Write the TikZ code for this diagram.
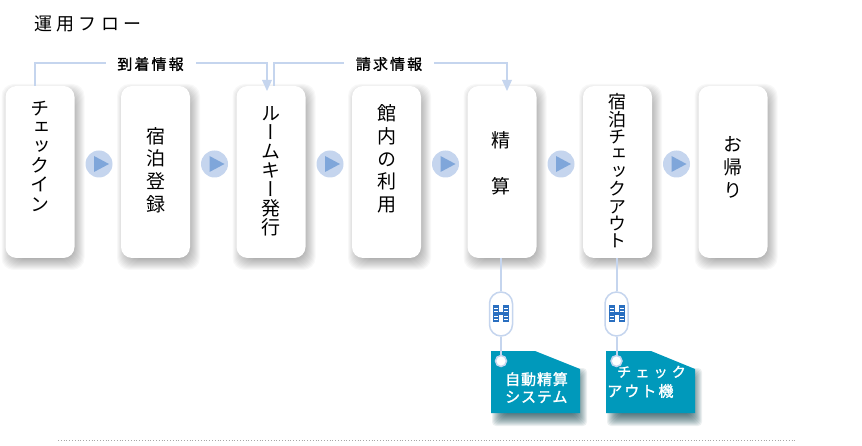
\documentclass[tikz,border=0pt]{standalone}
\usepackage{fontspec}
\usetikzlibrary{arrows.meta}
\setmainfont{Noto Sans CJK JP}
\newfontfamily\cjkv[RawFeature=+vert]{Noto Sans CJK JP}
\newfontfamily\cjkt[LetterSpace=24]{Noto Sans CJK JP}
\newfontfamily\cjkl[LetterSpace=14,FakeBold=1.2]{Noto Sans CJK JP}
\newfontfamily\cjkw[LetterSpace=6,FakeBold=1.5]{Noto Sans CJK JP}
\newfontfamily\cjkwb[LetterSpace=14,FakeBold=1.5]{Noto Sans CJK JP}
\newfontfamily\cjkww[LetterSpace=30,FakeBold=1.5]{Noto Sans CJK JP}
\definecolor{pale}{HTML}{C5D5EE}
\definecolor{tri}{HTML}{7FA6DA}
\definecolor{teal}{HTML}{0099BB}
\definecolor{bld}{HTML}{2A6FC0}
\tikzset{
  x=1pt,y=-1pt,
  flowbox/.style={fill=white,rounded corners=11pt,minimum width=69pt,minimum height=172pt,inner sep=0pt},
  vlab/.style={inner sep=0pt,align=center,text=black},
  conn/.style={draw=pale,line width=2pt},
  toplab/.style={inner sep=0pt,fill=white,minimum height=16pt,minimum width=90pt,font=\cjkl\fontsize{15}{16}\selectfont},
  circ/.style={circle,fill=pale,minimum size=27pt,inner sep=0pt},
  pill/.style={draw=pale,line width=1.5pt,fill=white,rounded corners=11.5pt,minimum width=23pt,minimum height=44pt,inner sep=0pt},
  dotc/.style={circle,draw=pale,line width=1.5pt,fill=white,minimum size=11pt,inner sep=0pt},
  taglab/.style={inner sep=0pt,text=white,align=left}
}
\newcommand{\vfs}[2]{\cjkv\fontsize{#1}{#2}\selectfont}
\newcommand{\softbox}[2]{% centre x, centre y
  \foreach \s in {-5,-4,...,7}{
    \fill[black,opacity=0.027,rounded corners=12pt]
      ({#1-34.5+3-\s},{#2-86+5-\s}) rectangle ({#1+34.5+3+\s},{#2+86+5+\s});
  }
}
\newcommand{\softtag}[1]{% left x of tag
  \foreach \s in {-5,-4,...,7}{
    \fill[black!65!teal,opacity=0.075,rounded corners=4pt]
      ({#1+8-\s},{369+6-\s}) -- ({#1+89+\s},{369+6-\s}) -- ({#1+89+\s},{413+6+\s}) -- ({#1+8-\s},{413+6+\s}) -- cycle;
  }
}
\newcommand{\towers}[2]{% centre x, centre y
  \fill[bld] ({#1-8},{#2-8.5}) rectangle ({#1-2},{#2+8.5});
  \fill[bld] ({#1+2},{#2-8.5}) rectangle ({#1+8},{#2+8.5});
  \fill[bld] ({#1-2},{#2-1.5}) rectangle ({#1+2},{#2+1.5});
  \foreach \d in {-5,-2.5,3,5.5}{
    \draw[white,line width=0.5pt] ({#1-7},{#2+\d}) -- ({#1-3},{#2+\d});
    \draw[white,line width=0.5pt] ({#1+3},{#2+\d}) -- ({#1+7},{#2+\d});
  }
}
\begin{document}
\begin{tikzpicture}
\useasboundingbox (0,0) rectangle (862,446);
\fill[white] (0,0) rectangle (862,446);

% title
\node[inner sep=0pt,anchor=west,font=\cjkt\fontsize{18}{20}\selectfont] (title) at (34,24) {運用フロー};

% shadows
\foreach \c in {40,155.5,271,386.5,502,617.5,733}{\softbox{\c}{172}}

% boxes
\node[flowbox] (b1) at (40,172) {};
\node[flowbox] (b2) at (155.5,172) {};
\node[flowbox] (b3) at (271,172) {};
\node[flowbox] (b4) at (386.5,172) {};
\node[flowbox] (b5) at (502,172) {};
\node[flowbox] (b6) at (617.5,172) {};
\node[flowbox] (b7) at (733,172) {};

% box texts
\node[vlab,font=\vfs{19}{19.2}] (t1) at (39.5,156) {チ\\ェ\\ッ\\ク\\イ\\ン};
\node[vlab,font=\vfs{19}{22.7}] (t2) at (155.5,170) {宿\\泊\\登\\録};
\node[vlab,font=\vfs{19}{19}] (t3) at (271,171) {ル\\ー\\ム\\キ\\ー\\発\\行};
\node[vlab,font=\vfs{19}{22.7}] (t4) at (386.5,159) {館\\内\\の\\利\\用};
\node[vlab,font=\vfs{19}{46}] (t5) at (501,163) {精\\算};
\node[vlab,font=\vfs{18}{17.4}] (t6) at (617.5,171) {宿\\泊\\チ\\ェ\\ッ\\ク\\ア\\ウ\\ト};
\node[vlab,font=\vfs{19}{23}] (t7) at (733,167) {お\\帰\\り};

% flow circles
\foreach \n/\x in {c1/99,c2/214.5,c3/330,c4/445.5,c5/561,c6/676.5}{
  \node[circ] (\n) at (\x,164) {};
  \fill[tri] (\x,164) ++(-5,-8) -- ++(15,8) -- ++(-15,8) -- cycle;
}

% top connectors
\coordinate (c1top) at (35,86);
\coordinate (r3in) at (267,81);
\coordinate (r3out) at (274,86);
\coordinate (r5in) at (507,81);
\draw[conn] (c1top) -- (35,63) -| (r3in);
\fill[pale] (262,80) -- (272,80) -- (267,91) -- cycle;
\draw[conn] (r3out) -- (274,63) -| (r5in);
\fill[pale] (502,80) -- (512,80) -- (507,91) -- cycle;
\node[toplab] (l1) at (150.5,64) {到着情報};
\node[toplab] (l2) at (389,64) {請求情報};

% lower connectors
\node[pill] (p1) at (501,314) {};
\node[pill] (p2) at (616.5,314) {};
\towers{501}{313.5}
\towers{616.5}{313.5}

% tags
\softtag{491}
\softtag{606}
\fill[teal] (491,351) -- (535,351) -- (580,369) -- (580,413) -- (491,413) -- cycle;
\fill[teal] (606,351) -- (651,351) -- (695,369) -- (695,413) -- (606,413) -- cycle;
\node[dotc] (d1) at (501,361) {};
\node[dotc] (d2) at (616.5,361) {};

\draw[conn] (501,258) -- (p1.north);
\draw[conn] (616.5,258) -- (p2.north);
\draw[conn] (p1.south) -- (d1.north);
\draw[conn] (p2.south) -- (d2.north);

\node[taglab,font=\cjkw\fontsize{15}{17.5}\selectfont,anchor=north west] (g1) at (505,372) {自動精算\\システム};
\node[taglab,font=\cjkww\fontsize{14}{18}\selectfont,anchor=west] (g2a) at (617,372) {チェック};
\node[taglab,font=\cjkwb\fontsize{15}{18}\selectfont,anchor=west] (g2b) at (607,391) {アウト機};

% dotted rule
\draw[gray!70,line width=0.8pt,dotted] (58,440) -- (795,440);
\end{tikzpicture}
\end{document}
